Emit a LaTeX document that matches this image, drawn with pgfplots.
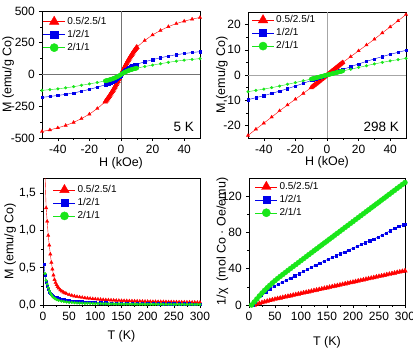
\documentclass[border=0pt]{standalone}
\usepackage{fontspec}
\setmainfont{Liberation Sans}
\usepackage{pgfplots}
\usepackage{pgfplotstable}
\pgfplotsset{compat=1.18}

\definecolor{cred}{RGB}{255,0,0}
\definecolor{cblue}{RGB}{0,0,235}
\definecolor{cgreen}{RGB}{25,230,25}

% ---- M(H) loops at 5 K ----
\pgfplotstableread[row sep=\\]{
H M\\
-50 -449\\ -45 -436\\ -40 -420\\ -35 -401\\ -30 -377\\ -25 -347\\ -20 -312\\ -15 -268\\
-10 -215\\ -9.5 -207\\ -9 -198\\ -8.5 -190\\ -8 -181\\ -7.5 -171\\ -7 -162\\ -6.5 -152\\
-6 -142\\ -5.5 -132\\ -5 -122\\ -4.5 -111\\ -4 -100\\ -3.5 -89\\ -3 -77\\ -2.5 -65\\
-2 -53\\ -1.5 -40\\ -1 -27\\ -0.5 -14\\ 0 0\\
0.5 14\\ 1 27\\ 1.5 40\\ 2 53\\ 2.5 65\\ 3 77\\ 3.5 89\\ 4 100\\ 4.5 111\\ 5 122\\
5.5 132\\ 6 142\\ 6.5 152\\ 7 162\\ 7.5 171\\ 8 181\\ 8.5 190\\ 9 198\\ 9.5 207\\ 10 215\\
15 268\\ 20 312\\ 25 347\\ 30 377\\ 35 401\\ 40 420\\ 45 436\\ 50 449\\
}\lowA
\pgfplotstableread[row sep=\\]{
H M\\
-50 -180\\ -45 -173\\ -40 -165\\ -35 -156\\ -30 -145\\ -25 -132\\ -20 -117\\ -15 -100\\
-10 -81\\ -9.5 -79\\ -9 -76\\ -8.5 -74\\ -8 -71\\ -7.5 -69\\ -7 -66\\ -6.5 -63\\ -6 -59\\
-5.5 -56\\ -5 -52\\ -4.5 -49\\ -4 -45\\ -3.5 -40\\ -3 -36\\ -2.5 -31\\ -2 -26\\ -1.5 -20\\
-1 -14\\ -0.5 -7\\ 0 0\\
0.5 7\\ 1 14\\ 1.5 20\\ 2 26\\ 2.5 31\\ 3 36\\ 3.5 40\\ 4 45\\ 4.5 49\\ 5 52\\ 5.5 56\\
6 59\\ 6.5 63\\ 7 66\\ 7.5 69\\ 8 71\\ 8.5 74\\ 9 76\\ 9.5 79\\ 10 81\\
15 100\\ 20 117\\ 25 132\\ 30 145\\ 35 156\\ 40 165\\ 45 173\\ 50 180\\
}\lowB
\pgfplotstableread[row sep=\\]{
H M\\
-50 -125\\ -45 -119\\ -40 -113\\ -35 -105\\ -30 -96\\ -25 -85\\ -20 -74\\ -15 -63\\
-10 -50\\ -9.5 -48.6\\ -9 -47.1\\ -8.5 -45.5\\ -8 -43.9\\ -7.5 -42.2\\ -7 -40.4\\
-6.5 -38.5\\ -6 -36.5\\ -5.5 -34.4\\ -5 -32.1\\ -4.5 -29.8\\ -4 -27.3\\ -3.5 -24.6\\
-3 -21.8\\ -2.5 -18.8\\ -2 -15.5\\ -1.5 -12.1\\ -1 -8.3\\ -0.5 -4.3\\ 0 0\\
0.5 4.3\\ 1 8.3\\ 1.5 12.1\\ 2 15.5\\ 2.5 18.8\\ 3 21.8\\ 3.5 24.6\\ 4 27.3\\ 4.5 29.8\\
5 32.1\\ 5.5 34.4\\ 6 36.5\\ 6.5 38.5\\ 7 40.4\\ 7.5 42.2\\ 8 43.9\\ 8.5 45.5\\
9 47.1\\ 9.5 48.6\\ 10 50\\
15 63\\ 20 74\\ 25 85\\ 30 96\\ 35 105\\ 40 113\\ 45 119\\ 50 125\\
}\lowC

% ---- M(H) at 298 K ----
\pgfplotstableread[row sep=\\]{
H M\\
-50 -24.0\\ -45 -21.5\\ -40 -19.1\\ -35 -16.7\\ -30 -14.2\\ -25 -11.9\\ -20 -9.6\\ -15 -7.3\\
-10 -5.0\\ -9.5 -4.75\\ -9 -4.5\\ -8.5 -4.25\\ -8 -4.0\\ -7.5 -3.75\\ -7 -3.5\\ -6.5 -3.25\\
-6 -3.0\\ -5.5 -2.75\\ -5 -2.5\\ -4.5 -2.25\\ -4 -2.0\\ -3.5 -1.75\\ -3 -1.5\\ -2.5 -1.25\\
-2 -1.0\\ -1.5 -0.75\\ -1 -0.5\\ -0.5 -0.25\\ 0 0\\
0.5 0.25\\ 1 0.5\\ 1.5 0.75\\ 2 1.0\\ 2.5 1.25\\ 3 1.5\\ 3.5 1.75\\ 4 2.0\\ 4.5 2.25\\
5 2.5\\ 5.5 2.75\\ 6 3.0\\ 6.5 3.25\\ 7 3.5\\ 7.5 3.75\\ 8 4.0\\ 8.5 4.25\\ 9 4.5\\
9.5 4.75\\ 10 5.0\\
15 7.3\\ 20 9.6\\ 25 11.9\\ 30 14.2\\ 35 16.7\\ 40 19.1\\ 45 21.5\\ 50 24.0\\
}\roomA
\pgfplotstableread[row sep=\\]{
H M\\
-50 -9.8\\ -45 -9.0\\ -40 -8.2\\ -35 -7.3\\ -30 -6.4\\ -25 -5.4\\ -20 -4.4\\ -15 -3.3\\
-10 -2.2\\ -9 -1.98\\ -8 -1.76\\ -7 -1.54\\ -6 -1.32\\ -5 -1.1\\ -4 -0.88\\ -3 -0.66\\
-2 -0.44\\ -1 -0.22\\ 0 0\\ 1 0.22\\ 2 0.44\\ 3 0.66\\ 4 0.88\\ 5 1.1\\ 6 1.32\\
7 1.54\\ 8 1.76\\ 9 1.98\\ 10 2.2\\
15 3.3\\ 20 4.4\\ 25 5.4\\ 30 6.4\\ 35 7.3\\ 40 8.2\\ 45 9.0\\ 50 9.8\\
}\roomB
\pgfplotstableread[row sep=\\]{
H M\\
-50 -6.6\\ -45 -6.1\\ -40 -5.6\\ -35 -5.0\\ -30 -4.4\\ -25 -3.7\\ -20 -3.0\\ -15 -2.3\\
-10 -1.6\\ -9.5 -1.52\\ -9 -1.44\\ -8.5 -1.36\\ -8 -1.28\\ -7.5 -1.2\\ -7 -1.12\\
-6.5 -1.04\\ -6 -0.96\\ -5.5 -0.88\\ -5 -0.8\\ -4.5 -0.72\\ -4 -0.64\\ -3.5 -0.56\\
-3 -0.48\\ -2.5 -0.4\\ -2 -0.32\\ -1.5 -0.24\\ -1 -0.16\\ -0.5 -0.08\\ 0 0\\
0.5 0.08\\ 1 0.16\\ 1.5 0.24\\ 2 0.32\\ 2.5 0.4\\ 3 0.48\\ 3.5 0.56\\ 4 0.64\\
4.5 0.72\\ 5 0.8\\ 5.5 0.88\\ 6 0.96\\ 6.5 1.04\\ 7 1.12\\ 7.5 1.2\\ 8 1.28\\
8.5 1.36\\ 9 1.44\\ 9.5 1.52\\ 10 1.6\\
15 2.3\\ 20 3.0\\ 25 3.7\\ 30 4.4\\ 35 5.0\\ 40 5.6\\ 45 6.1\\ 50 6.6\\
}\roomC

\newcommand{\tickfont}{\fontsize{12}{13}\selectfont}
\newcommand{\labfont}{\fontsize{12.5}{14}\selectfont}
\newcommand{\legfont}{\fontsize{10}{11}\selectfont}

\pgfplotsset{
  leg/.style={legend image code/.code={%
      \draw[mark repeat=2,mark phase=2,mark size=#1]
        plot coordinates {(0pt,0pt) (11pt,0pt) (22pt,0pt)};}},
  sA/.style={cred, line width=0.4pt, mark=triangle*, mark size=1.9pt, leg=5.5pt},
  sB/.style={cblue, line width=0.4pt, mark=square*, mark size=1.15pt, leg=3.6pt},
  sC/.style={cgreen, line width=0.4pt, mark=*, mark size=1.35pt, leg=4.1pt},
  lowfield/.style={only marks, forget plot, restrict x to domain=-10.1:10.1},
  panel/.style={
    scale only axis,
    /pgf/number format/assume math mode=true,
    every tick label/.append style={font=\tickfont},
    tick align=outside, tick pos=left,
    major tick length=3pt, minor tick length=1.6pt,
    minor tick num=1,
    axis line style={line width=0.6pt},
    every tick/.style={black, line width=0.6pt},
    legend cell align=left,
    legend style={draw=none, fill=none, anchor=north west,
      font=\legfont, inner sep=0pt, row sep=1pt,
      column sep=1pt,
      nodes={inner sep=1pt, text height=7.5pt, text depth=2.5pt}},
  },
}

\begin{document}
\tickfont
\begin{tikzpicture}

% ---------------- M(H) at 5 K ----------------
\begin{axis}[panel,
  at={(42pt,-138pt)}, anchor=south west,
  width=158pt, height=127pt,
  xmin=-50, xmax=50, ymin=-500, ymax=500,
  xtick={-40,-20,0,20,40}, ytick={-500,-250,0,250,500},
  xlabel={\labfont H (kOe)}, ylabel={\labfont M (emu/g Co)},
  every axis x label/.style={at={(axis description cs:0.5,0)}, anchor=center, yshift=-25.5pt},
  every axis y label/.style={at={(axis description cs:-0.215,0.5)}, rotate=90, anchor=center},
  legend style={at={(axis description cs:0.005,0.965)}},
]
\draw[black!55, line width=0.6pt] (axis cs:0,-500) -- (axis cs:0,500);
\draw[black!55, line width=0.6pt] (axis cs:-50,0) -- (axis cs:50,0);
\addplot[sA] table[x=H,y=M] {\lowA};
\addlegendentry{0.5/2.5/1}
\addplot[sA, lowfield, mark size=2.8pt] table[x=H,y=M] {\lowA};
\addplot[sB] table[x=H,y=M] {\lowB};
\addlegendentry{1/2/1}
\addplot[sB, lowfield, mark size=1.5pt] table[x=H,y=M] {\lowB};
\addplot[sC] table[x=H,y=M] {\lowC};
\addlegendentry{2/1/1}
\addplot[sC, lowfield, mark size=2.0pt] table[x=H,y=M] {\lowC};
\node[anchor=base east, inner sep=0pt, font=\fontsize{13.5}{15}\selectfont]
  at (rel axis cs:0.962,0.055) {5 K};
\end{axis}

% ---------------- M(H) at 298 K ----------------
\begin{axis}[panel,
  at={(248pt,-138pt)}, anchor=south west,
  width=158pt, height=126pt,
  xmin=-50, xmax=50, ymin=-25, ymax=25,
  xtick={-40,-20,0,20,40}, ytick={-20,-10,0,10,20},
  xlabel={\labfont H (kOe)}, ylabel={\labfont M (emu/g Co)},
  every axis x label/.style={at={(axis description cs:0.5,0)}, anchor=center, yshift=-24.5pt},
  every axis y label/.style={at={(axis description cs:-0.165,0.5)}, rotate=90, anchor=center},
  legend style={at={(axis description cs:0.023,0.985)}},
]
\draw[black!35, line width=1pt] (axis cs:0,-25) -- (axis cs:0,25);
\draw[black!35, line width=1pt] (axis cs:-50,0) -- (axis cs:50,0);
\addplot[sA] table[x=H,y=M] {\roomA};
\addlegendentry{0.5/2.5/1}
\addplot[sA, lowfield, mark size=2.5pt] table[x=H,y=M] {\roomA};
\addplot[sB] table[x=H,y=M] {\roomB};
\addlegendentry{1/2/1}
\addplot[sC] table[x=H,y=M] {\roomC};
\addlegendentry{2/1/1}
\addplot[sC, lowfield, mark size=2.0pt] table[x=H,y=M] {\roomC};
\node[anchor=base east, inner sep=0pt, font=\fontsize{13.5}{15}\selectfont]
  at (rel axis cs:0.956,0.055) {298 K};
\end{axis}

% ---------------- M(T) ----------------
\begin{axis}[panel,
  at={(43pt,-305pt)}, anchor=south west,
  width=157pt, height=127pt,
  xmin=0, xmax=300, ymin=0, ymax=1.7,
  xtick={0,50,100,150,200,250,300}, ytick={0,0.5,1.0,1.5},
  yticklabel style={/pgf/number format/.cd, fixed, fixed zerofill, precision=1, use comma},
  xlabel={\labfont T (K)}, ylabel={\labfont M (emu/g Co)},
  every axis x label/.style={at={(axis description cs:0.5,0)}, anchor=center, yshift=-31.5pt},
  every axis y label/.style={at={(axis description cs:-0.21,0.5)}, rotate=90, anchor=center},
  legend style={at={(axis description cs:0.064,0.955)}},
]
\addplot[sA] table[row sep=\\]{
4 1.72\\ 6 1.30\\ 8 1.12\\ 10 0.93\\ 12 0.80\\ 14 0.68\\ 16 0.57\\ 18 0.48\\ 20 0.40\\
22 0.34\\ 24 0.30\\ 26 0.27\\ 28 0.245\\ 30 0.225\\ 33 0.20\\ 36 0.185\\ 39 0.17\\
42 0.16\\ 45 0.15\\ 50 0.138\\ 55 0.128\\ 60 0.119\\ 65 0.112\\ 70 0.106\\ 75 0.100\\
80 0.095\\ 85 0.091\\ 90 0.087\\ 95 0.083\\ 100 0.080\\ 105 0.077\\ 110 0.074\\
115 0.071\\ 120 0.069\\ 125 0.067\\ 130 0.065\\ 135 0.063\\ 140 0.061\\ 145 0.060\\
150 0.058\\ 155 0.057\\ 160 0.056\\ 165 0.054\\ 170 0.053\\ 175 0.052\\ 180 0.051\\
185 0.050\\ 190 0.049\\ 195 0.048\\ 200 0.047\\ 205 0.046\\ 210 0.045\\ 215 0.045\\
220 0.044\\ 225 0.043\\ 230 0.043\\ 235 0.042\\ 240 0.041\\ 245 0.041\\ 250 0.040\\
255 0.040\\ 260 0.039\\ 265 0.038\\ 270 0.038\\ 275 0.037\\ 280 0.037\\ 285 0.036\\
290 0.036\\ 295 0.035\\ 300 0.035\\
};
\addlegendentry{0.5/2.5/1}
\addplot[sB] table[row sep=\\]{
2 0.55\\ 4 0.40\\ 6 0.31\\ 8 0.25\\ 10 0.21\\ 12 0.18\\ 14 0.16\\ 16 0.145\\ 18 0.13\\
20 0.12\\ 23 0.108\\ 26 0.098\\ 30 0.088\\ 35 0.078\\ 40 0.070\\ 45 0.064\\ 50 0.059\\
55 0.055\\ 60 0.051\\ 65 0.048\\ 70 0.045\\ 75 0.043\\ 80 0.041\\ 85 0.039\\ 90 0.037\\
95 0.035\\ 100 0.034\\ 110 0.031\\ 120 0.029\\ 130 0.027\\ 140 0.026\\ 150 0.025\\
160 0.024\\ 170 0.023\\ 180 0.022\\ 190 0.021\\ 200 0.020\\ 210 0.020\\ 220 0.019\\
230 0.018\\ 240 0.018\\ 250 0.017\\ 260 0.017\\ 270 0.016\\ 280 0.016\\ 290 0.015\\
300 0.015\\
};
\addlegendentry{1/2/1}
\addplot[sC] table[row sep=\\]{
4 0.42\\ 6 0.33\\ 8 0.28\\ 10 0.23\\ 12 0.19\\ 14 0.16\\ 16 0.135\\ 18 0.115\\ 20 0.10\\
23 0.085\\ 26 0.073\\ 30 0.062\\ 35 0.052\\ 40 0.045\\ 45 0.040\\ 50 0.036\\ 55 0.033\\
60 0.030\\ 65 0.028\\ 70 0.026\\ 75 0.025\\ 80 0.023\\ 85 0.022\\ 90 0.021\\ 95 0.020\\
100 0.019\\ 105 0.018\\ 110 0.018\\ 115 0.017\\ 120 0.016\\ 125 0.016\\ 130 0.015\\
135 0.015\\ 140 0.014\\ 145 0.014\\ 150 0.014\\ 155 0.013\\ 160 0.013\\ 165 0.013\\
170 0.012\\ 175 0.012\\ 180 0.012\\ 185 0.011\\ 190 0.011\\ 195 0.011\\ 200 0.011\\
205 0.010\\ 210 0.010\\ 215 0.010\\ 220 0.010\\ 225 0.010\\ 230 0.010\\ 235 0.009\\
240 0.009\\ 245 0.009\\ 250 0.009\\ 255 0.009\\ 260 0.009\\ 265 0.008\\ 270 0.008\\
275 0.008\\ 280 0.008\\ 285 0.008\\ 290 0.008\\ 295 0.008\\ 300 0.008\\
};
\addlegendentry{2/1/1}
\end{axis}

% ---------------- inverse susceptibility ----------------
\begin{axis}[panel,
  at={(249pt,-305pt)}, anchor=south west,
  width=156pt, height=127pt,
  xmin=0, xmax=300, ymin=0, ymax=140,
  xtick={0,50,100,150,200,250,300}, ytick={0,40,80,120},
  xlabel={\labfont T (K)}, ylabel={\labfont 1/χ~ (mol Co · Oe/emu)},
  every axis x label/.style={at={(axis description cs:0.5,0)}, anchor=center, yshift=-37.5pt},
  every axis y label/.style={at={(axis description cs:-0.17,0.5)}, rotate=90, anchor=center},
  legend style={at={(axis description cs:0.038,0.98)}},
]
\addplot[sA, mark size=2.6pt] table[row sep=\\]{
10 0\\ 15 0.9\\ 20 1.8\\ 25 2.7\\ 30 3.5\\ 35 4.3\\ 40 5.0\\ 45 5.7\\ 50 6.4\\ 55 7.1\\
60 7.7\\ 65 8.3\\ 70 9.0\\ 75 9.6\\ 80 10.2\\ 85 10.9\\ 90 11.5\\ 95 12.1\\ 100 12.7\\
105 13.4\\ 110 14.0\\ 115 14.6\\ 120 15.2\\ 125 15.9\\ 130 16.5\\ 135 17.1\\ 140 17.7\\
145 18.4\\ 150 19.0\\ 155 19.6\\ 160 20.2\\ 165 20.9\\ 170 21.5\\ 175 22.1\\ 180 22.7\\
185 23.4\\ 190 24.0\\ 195 24.6\\ 200 25.2\\ 205 25.9\\ 210 26.5\\ 215 27.1\\ 220 27.7\\
225 28.4\\ 230 29.0\\ 235 29.6\\ 240 30.2\\ 245 30.9\\ 250 31.5\\ 255 32.1\\ 260 32.7\\
265 33.4\\ 270 34.0\\ 275 34.6\\ 280 35.2\\ 285 35.9\\ 290 36.5\\ 295 37.1\\ 300 37.7\\
};
\addlegendentry{0.5/2.5/1}
\addplot[sB] table[row sep=\\]{
8 0\\ 12 3.5\\ 16 6.5\\ 24 11.0\\ 32 14.8\\ 40 18.0\\ 48 20.8\\ 56 23.0\\ 64 25.3\\
72 27.6\\ 80 29.9\\ 88 32.2\\ 96 34.6\\ 104 37.0\\ 112 39.3\\ 120 41.8\\ 128 44.0\\
136 46.2\\ 144 48.4\\ 152 50.5\\ 160 52.5\\ 168 54.5\\ 176 56.5\\ 184 58.5\\ 192 60.7\\
200 62.8\\ 208 64.8\\ 216 66.8\\ 224 68.8\\ 232 70.8\\ 240 72.9\\ 248 74.9\\ 256 77.1\\
264 79.5\\ 272 82.0\\ 280 84.5\\ 288 86.7\\ 296 88.6\\ 300 89.4\\
};
\addlegendentry{1/2/1}
\addplot[sC, mark size=2.5pt] table[row sep=\\]{
5 0\\ 10 3.3\\ 15 6.6\\ 20 10.0\\ 25 13.2\\ 30 16.2\\ 35 19.0\\ 40 21.7\\ 45 24.3\\
50 26.8\\ 55 29.2\\ 60 31.5\\ 65 33.7\\ 70 35.9\\ 75 38.1\\ 80 40.3\\ 85 42.5\\ 90 44.6\\
95 46.8\\ 100 49.0\\ 105 51.1\\ 110 53.3\\ 115 55.5\\ 120 57.6\\ 125 59.8\\ 130 61.9\\
135 64.1\\ 140 66.2\\ 145 68.4\\ 150 70.5\\ 155 72.7\\ 160 74.8\\ 165 77.0\\ 170 79.1\\
175 81.3\\ 180 83.4\\ 185 85.6\\ 190 87.7\\ 195 89.9\\ 200 92.0\\ 205 94.2\\ 210 96.3\\
215 98.5\\ 220 100.6\\ 225 102.8\\ 230 104.9\\ 235 107.1\\ 240 109.2\\ 245 111.4\\
250 113.5\\ 255 115.7\\ 260 117.8\\ 265 120.0\\ 270 122.1\\ 275 124.3\\ 280 126.4\\
285 128.6\\ 290 130.7\\ 295 132.9\\ 300 135.0\\
};
\addlegendentry{2/1/1}
\end{axis}

\pgfresetboundingbox
\path (0pt,0pt) rectangle (413pt,-354pt);
\end{tikzpicture}
\end{document}
